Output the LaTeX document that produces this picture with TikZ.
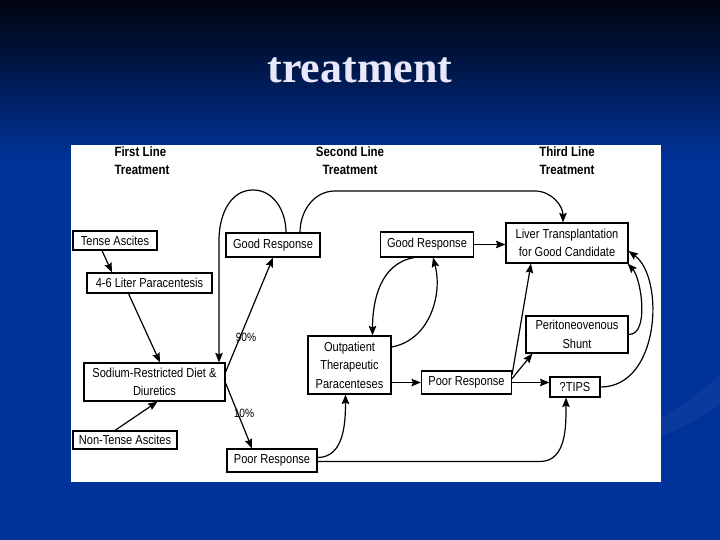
\documentclass[tikz,border=0pt]{standalone}
\usepackage{fontspec}
\setmainfont{Liberation Serif}
\setsansfont[FakeStretch=0.85]{Liberation Sans}
\usetikzlibrary{arrows.meta}
\definecolor{slidetop}{RGB}{0, 3, 14}
\definecolor{slideblue}{RGB}{0, 51, 153}
\definecolor{titletext}{RGB}{232, 232, 250}

\tikzset{
  box/.style={draw, line width=1.2, fill=white, align=center, inner xsep=3, inner ysep=2,
    font=\sffamily\fontsize{13}{18.5}\selectfont},
  heading/.style={align=center, font=\sffamily\bfseries\fontsize{13.5}{18}\selectfont},
  pct/.style={font=\sffamily\fontsize{12}{14}\selectfont},
  link/.style={-{Stealth[length=9.5pt, width=7.5pt, inset=1.5pt]}, line width=1.2},
}

\begin{document}
\begin{tikzpicture}[x=1pt, y=1pt]
  % slide background
  \fill[slideblue] (0, 0) rectangle (720, 540);
  \shade[top color=slidetop, bottom color=slideblue] (0, 380) rectangle (720, 540);
  \fill[white, opacity=0.035] (470, 62) .. controls (580, 80) and (660, 110) .. (720, 165)
    -- (720, 135) .. controls (660, 95) and (580, 72) .. (470, 62);
  \useasboundingbox (0, 0) rectangle (720, 540);

  % title
  \node[font=\bfseries\fontsize{44}{50}\selectfont, text=titletext, anchor=base] (title) at (360, 457) {treatment};

  % white panel
  \fill[white] (71, 58) rectangle (661, 395);

  % column headings
  \node[heading, align=left, anchor=west] (first) at (111, 379) {First Line\\Treatment};
  \node[heading] (second) at (350, 379) {Second Line\\Treatment};
  \node[heading] (third) at (567, 379) {Third Line\\Treatment};

  % first line
  \node[box, minimum width=84, minimum height=19] (tense) at (115, 299.5) {Tense Ascites};
  \node[box, minimum width=125, minimum height=20] (liter) at (149.5, 257) {4-6 Liter Paracentesis};
  \node[box, minimum width=141, minimum height=38] (diet) at (154.5, 158) {Sodium-Restricted Diet \&\\Diuretics};
  \node[box, minimum width=104, minimum height=18] (nontense) at (125, 100) {Non-Tense Ascites};

  % second line
  \node[box, minimum width=94, minimum height=24] (good1) at (273, 295) {Good Response};
  \node[box, minimum width=90, minimum height=23] (poor1) at (272, 79.5) {Poor Response};
  \node[box, minimum width=83, minimum height=58] (outpt) at (349.5, 175) {Outpatient\\Therapeutic\\Paracenteses};
  \node[box, minimum width=93, minimum height=25] (good2) at (427, 295.5) {Good Response};
  \node[box, minimum width=90, minimum height=23] (poor2) at (466.5, 157.5) {Poor Response};

  % third line
  \node[box, minimum width=122, minimum height=40] (liver) at (567, 297) {Liver Transplantation\\for Good Candidate};
  \node[box, minimum width=102, minimum height=37] (shunt) at (577, 205.5) {Peritoneovenous\\Shunt};
  \node[box, minimum width=50, minimum height=20] (tips) at (575, 153) {?TIPS};

  \node[pct] (p90) at (246, 203) {90\%};
  \node[pct] (p10) at (244, 127) {10\%};

  % connectors
  \draw[link] ([xshift=-13]tense.south) -- ([xshift=-37.5]liter.north);
  \draw[link] ([xshift=-21]liter.south) -- ([xshift=5.5]diet.north);
  \draw[link] ([xshift=-10]nontense.north) -- ([xshift=3]diet.south);
  \draw[link] ([yshift=10]diet.east) -- (good1.south);
  \draw[link] ([yshift=-1]diet.east) -- ([xshift=-20]poor1.north);
  \draw[link] ([xshift=13]good1.north) to[out=90, in=0] (253, 350)
    to[out=180, in=90] (219, 300) -- ([xshift=64.5]diet.north);
  \draw[link] ([xshift=27]good1.north) to[out=90, in=180] (335, 349)
    -- (535, 349) to[out=0, in=90] ([xshift=-4]liver.north);
  \draw[link] (good2.east) -- (good2.east -| liver.west);
  \draw[link] ([xshift=-13]good2.south) to[out=190, in=90] ([xshift=23]outpt.north);
  \draw[link] ([yshift=18]outpt.east) to[out=10, in=-75] ([xshift=6]good2.south);
  \draw[link] (poor2.west -| outpt.east) -- (poor2.west);
  \draw[link] ([yshift=3]poor1.east) to[out=0, in=-90] ([xshift=-4]outpt.south);
  \draw[link] ([yshift=-1]poor1.east) -- (540, 78.5) to[out=0, in=-90] ([xshift=-9]tips.south);
  \draw[link] (poor2.east) -- (poor2.east -| tips.west);
  \draw[link] ([yshift=4]poor2.east) -- ([xshift=7]shunt.south west);
  \draw[link] ([yshift=8]poor2.east) -- ([xshift=-36]liver.south);
  \draw[link] (shunt.east) .. controls (650, 205) and (641, 262) .. ([xshift=-1]liver.south east);
  \draw[link] (tips.east) .. controls (660, 153) and (665, 262) .. ([yshift=-8]liver.east);
\end{tikzpicture}
\end{document}
